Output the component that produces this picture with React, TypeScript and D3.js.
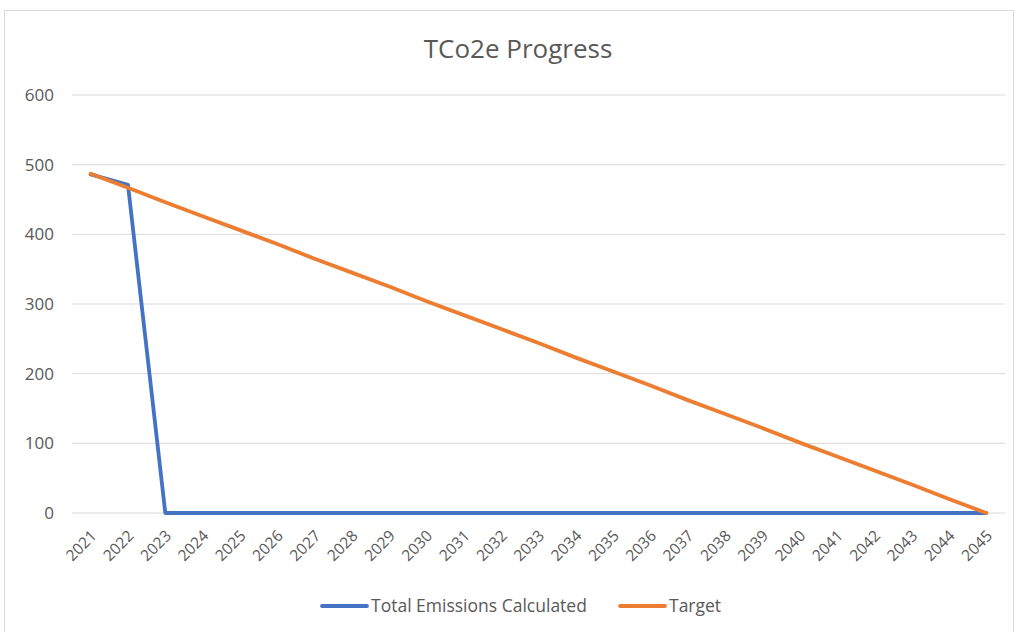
import React, { useEffect, useRef } from 'react';
import * as d3 from 'd3';

const years = ['2021', '2022', '2023', '2024', '2025', '2026', '2027', '2028', '2029', '2030', '2031', '2032', '2033',
  '2034', '2035', '2036', '2037', '2038', '2039', '2040', '2041', '2042', '2043', '2044', '2045'];
const totalEmissions = [486, 471, 0, 0, 0, 0, 0, 0, 0, 0, 0, 0, 0, 0, 0, 0, 0, 0, 0, 0, 0, 0, 0, 0, 0];
const target = [487, 467, 446, 426, 406, 386, 365, 345, 325, 304, 284, 264, 244, 223, 203, 183, 162, 142, 122, 101, 81, 61, 41, 20, 0];
const yTicks = [0, 100, 200, 300, 400, 500, 600];

const FONT = '"Open Sans", Calibri, sans-serif';

const App = () => {
  const svgRef = useRef<SVGSVGElement | null>(null);

  useEffect(() => {
    const svg = d3.select(svgRef.current);
    svg.selectAll('*').remove();

    const H = 632;
    const margin = { top: 95, right: 14, bottom: 119, left: 72 };
    const height = H - margin.top - margin.bottom;

    svg.append('rect')
      .attr('x', 4.5).attr('y', 10.5)
      .attr('width', 1009).attr('height', 640)
      .attr('fill', 'white').attr('stroke', '#d9d9d9');

    svg.append('text')
      .attr('x', 518).attr('y', 58)
      .attr('text-anchor', 'middle')
      .style('font-family', FONT).style('font-size', '26px')
      .style('fill', '#595959')
      .text('TCo2e Progress');

    const x = d3.scaleBand().domain(years).range([margin.left, 1005]);
    const y = d3.scaleLinear().domain([0, 600]).range([margin.top + height, margin.top]);
    const cx = (d: string) => (x(d) as number) + x.bandwidth() / 2;

    const g = svg.append('g');

    g.selectAll('.grid')
      .data(yTicks)
      .join('line')
      .attr('x1', margin.left).attr('x2', 1005)
      .attr('y1', d => y(d)).attr('y2', d => y(d))
      .attr('stroke', '#d9d9d9').attr('stroke-width', 1);

    g.selectAll('.ylab')
      .data(yTicks)
      .join('text')
      .attr('x', 54).attr('y', d => y(d))
      .attr('dy', '0.35em')
      .attr('text-anchor', 'end')
      .style('font-family', FONT).style('font-size', '17px')
      .style('fill', '#595959')
      .text(d => d);

    g.selectAll('.xlab')
      .data(years)
      .join('text')
      .attr('transform', d => `translate(${cx(d) + 3},${y(0) + 20}) rotate(-45)`)
      .attr('text-anchor', 'end')
      .attr('dy', '0.35em')
      .style('font-family', FONT).style('font-size', '15.5px')
      .style('fill', '#595959')
      .text(d => d);

    const line = (vals: number[]) => d3.line<number>()
      .x((_, i) => cx(years[i]))
      .y(d => y(d))(vals);

    g.append('path')
      .attr('d', line(totalEmissions))
      .attr('fill', 'none')
      .attr('stroke', '#4472C4')
      .attr('stroke-width', 3.8)
      .attr('stroke-linejoin', 'round')
      .attr('stroke-linecap', 'round');

    g.append('path')
      .attr('d', line(target))
      .attr('fill', 'none')
      .attr('stroke', '#ED7D31')
      .attr('stroke-width', 3.8)
      .attr('stroke-linejoin', 'round')
      .attr('stroke-linecap', 'round');

    const legend = [
      { name: 'Total Emissions Calculated', color: '#4472C4', x: 322 },
      { name: 'Target', color: '#ED7D31', x: 620 },
    ];
    const lg = svg.append('g');
    legend.forEach(l => {
      lg.append('line')
        .attr('x1', l.x).attr('x2', l.x + 45)
        .attr('y1', 606).attr('y2', 606)
        .attr('stroke', l.color).attr('stroke-width', 3.8)
        .attr('stroke-linecap', 'round');
      lg.append('text')
        .attr('x', l.x + 49).attr('y', 606)
        .attr('dy', '0.35em')
        .style('font-family', FONT).style('font-size', '17.5px')
        .style('fill', '#595959')
        .text(l.name);
    });
  }, []);

  return (
    <div style={{ position: 'absolute', left: 0, top: 0, width: 1019, height: 632, overflow: 'hidden', background: 'white' }}>
      <svg ref={svgRef} width={1019} height={632}></svg>
    </div>
  );
};

export default App;
